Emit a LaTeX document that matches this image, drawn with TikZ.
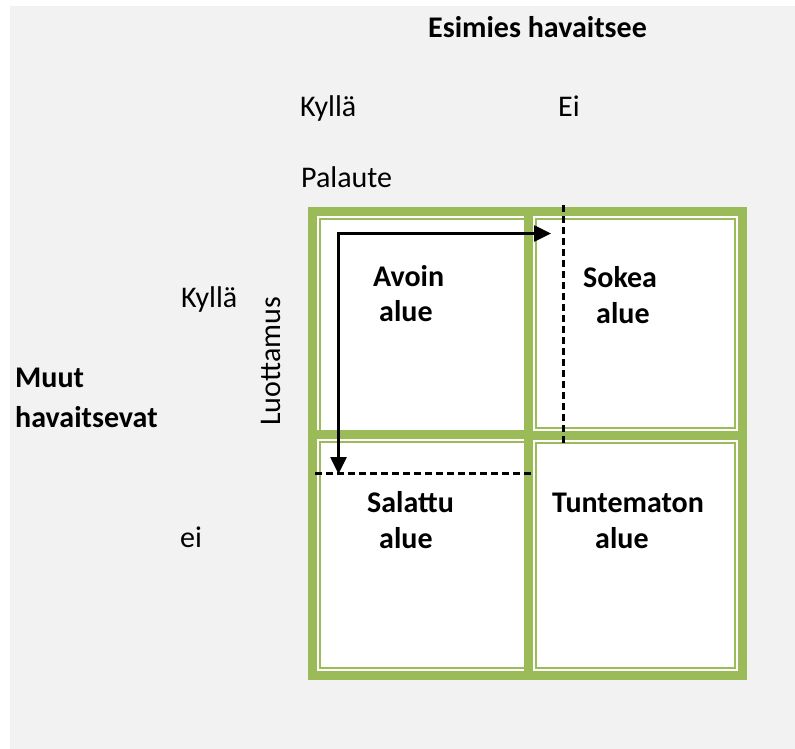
\documentclass[tikz,border=0pt]{standalone}
\usepackage{fontspec}
\setmainfont{Carlito}
\usetikzlibrary{arrows.meta,calc}
\definecolor{bandgreen}{HTML}{9BBB59}
\definecolor{bggray}{HTML}{F2F2F2}
\tikzset{
  lbl/.style={inner sep=0pt, anchor=base west, font=\fontsize{30}{36}\selectfont},
  blbl/.style={lbl, font=\fontsize{30}{36}\selectfont\bfseries},
  arrowline/.style={line width=2.6pt, line join=miter, {Triangle[length=17pt,width=16pt]}-{Triangle[length=17pt,width=16pt]}},
  dashline/.style={line width=2.4pt, dash pattern=on 7pt off 4pt},
}
\newcommand{\joharicell}[4]{%
  \fill[white] (#1,#2) rectangle (#3,#4);
  \draw[bandgreen, line width=9pt] ($(#1,#2)+(4.5,4.5)$) rectangle ($(#3,#4)+(-4.5,-4.5)$);
  \draw[bandgreen, line width=2.4pt] ($(#1,#2)+(12,12)$) rectangle ($(#3,#4)+(-12,-12)$);
}
\begin{document}
\begin{tikzpicture}[x=1pt, y=-1pt]
\useasboundingbox (0,0) rectangle (795,749);
\fill[white] (0,0) rectangle (795,749);
\fill[bggray] (10,6) rectangle (795,749);

% cells
\joharicell{308}{207}{538}{445}
\joharicell{308}{430}{538}{680}
\joharicell{524}{207}{747}{440}
\joharicell{524}{431}{747}{680}

% axis labels
\node[blbl] (esimies) at (428,37.5) {Esimies havaitsee};
\node[lbl] (kyllatop) at (300,117) {Kyllä};
\node[lbl] (eitop) at (558,117) {Ei};
\node[lbl] (palaute) at (301,187) {Palaute};
\node[lbl] (kyllaleft) at (181,307) {Kyllä};
\node[lbl, rotate=90] (luottamus) at (280,426) {Luottamus};
\node[blbl] (muut) at (15,387) {Muut};
\node[blbl] (havaitsevat) at (15,427) {havaitsevat};
\node[lbl] (eileft) at (180,547) {ei};

% cell texts
\node[blbl] (avoin) at (373,286) {Avoin};
\node[blbl] (avoin2) at (379,321) {alue};
\node[blbl] (sokea) at (583,287) {Sokea};
\node[blbl] (sokea2) at (596,323) {alue};
\node[blbl] (salattu) at (367,512) {Salattu};
\node[blbl] (salattu2) at (379,548) {alue};
\node[blbl] (tuntematon) at (552,512) {Tuntematon};
\node[blbl] (tuntematon2) at (595,548) {alue};

% arrows
\coordinate (corner) at (338.5,233.5);
\coordinate (rtip) at (551,233.5);
\coordinate (dtip) at (338.5,474);
\draw[arrowline] (dtip) -- (corner) -- (rtip);

% dashed lines
\coordinate (vdtop) at (563.3,205);
\coordinate (vdbot) at (563.3,445);
\coordinate (hdl) at (315,473.3);
\coordinate (hdr) at (533,473.3);
\draw[dashline] (vdtop) -- (vdbot);
\draw[dashline] (hdl) -- (hdr);
\end{tikzpicture}
\end{document}
